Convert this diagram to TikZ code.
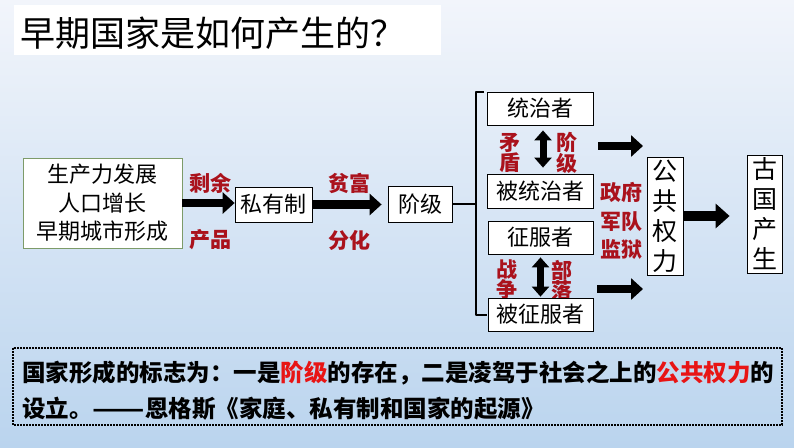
\documentclass[tikz,border=0pt]{standalone}
\usepackage{fontspec}
\setmainfont{Noto Sans CJK SC}
\usetikzlibrary{arrows.meta,calc}
\definecolor{lblred}{RGB}{170,18,28}
\definecolor{hlred}{RGB}{232,20,20}
\definecolor{bgtop}{RGB}{242,245,251}
\definecolor{bgbot}{RGB}{186,212,238}
\definecolor{gbord}{RGB}{125,155,105}
\begin{document}
\begin{tikzpicture}[x=1pt,y=-1pt,
  box/.style={draw=black,fill=white,line width=0.8pt,inner sep=0pt,align=center,
    font=\fontsize{22}{28.5}\selectfont},
  vbox/.style={box,font=\fontsize{25}{30}\selectfont},
  redlbl/.style={text=lblred,inner sep=0pt,align=center,
    font=\bfseries\fontsize{21}{20}\selectfont},
  fatarrow/.style={line width=8.5pt,-{Triangle[length=12pt,width=21pt]}},
  dblarrow/.style={line width=7pt,{Triangle[length=10pt,width=17pt]}-{Triangle[length=10pt,width=17pt]}},
  brk/.style={line width=2.5pt,line join=round},
  note/.style={anchor=west,inner sep=0pt,font=\bfseries\fontsize{23.5}{28}\selectfont}
]
\useasboundingbox (0,0) rectangle (794,447);
\shade[top color=bgtop,bottom color=bgbot] (0,0) rectangle (794,447);

% title
\fill[white] (14,5) rectangle (441,55);
\node[anchor=west,inner sep=0pt,font=\fontsize{35}{40}\selectfont] (title) at (20,33) {早期国家是如何产生的？};

% red labels (drawn first)
\node[redlbl] (l1) at (210,183) {剩余};
\node[redlbl] (l2) at (210,240) {产品};
\node[redlbl] (l3) at (349,183) {贫富};
\node[redlbl] (l4) at (349,240) {分化};
\node[redlbl] (l5) at (510,153) {矛\\盾};
\node[redlbl] (l6) at (567,153) {阶\\级};
\node[redlbl] (l7) at (507,280) {战\\争};
\node[redlbl] (l8) at (562,280) {部\\落};
\node[redlbl,font=\bfseries\fontsize{21}{28.5}\selectfont] (l9) at (621,221) {政府\\军队\\监狱};

% boxes
\node[box,draw=gbord,minimum width=159pt,minimum height=90pt] (b1) at (102.5,203) {生产力发展\\人口增长\\早期城市形成};
\node[box,minimum width=77pt,minimum height=35pt] (pri) at (273.5,204.5) {私有制};
\node[box,minimum width=64pt,minimum height=36pt] (jj) at (420,204) {阶级};
\node[box,minimum width=106pt,minimum height=33pt] (tz) at (540,108.5) {统治者};
\node[box,minimum width=106pt,minimum height=34pt] (btz) at (540,191) {被统治者};
\node[box,minimum width=105pt,minimum height=33pt] (zf) at (540.5,237.5) {征服者};
\node[box,minimum width=105pt,minimum height=33pt] (bzf) at (540.5,314.5) {被征服者};
\node[vbox,minimum width=36pt,minimum height=118pt] (gg) at (665,216) {公\\共\\权\\力};
\node[vbox,minimum width=35pt,minimum height=118pt] (gu) at (764.5,214) {古\\国\\产\\生};

% arrows
\draw[fatarrow] (b1.east) -- (b1.east -| pri.west);
\draw[fatarrow,shorten >=6pt] (pri.east) -- (pri.east -| jj.west);
\draw[fatarrow,line width=9.5pt,-{Triangle[length=14pt,width=24pt]},shorten >=17pt] (gg.east) -- (gg.east -| gu.west);

\coordinate (r1s) at (598,146);
\coordinate (r1e) at (643,146);
\coordinate (r2s) at (597,289);
\coordinate (r2e) at (643,289);
\draw[fatarrow] (r1s) -- (r1e);
\draw[fatarrow] (r2s) -- (r2e);

\draw[dblarrow,shorten <=5pt,shorten >=6pt] ($(tz.south)+(3,0)$) -- ($(btz.north)+(3,0)$);
\draw[dblarrow,shorten <=3pt,shorten >=1pt] (zf.south) -- (bzf.north);

% bracket
\coordinate (bt) at (476,92);
\coordinate (bb) at (476,315);
\draw[line width=2pt] (jj.east) -- (jj.east -| bt);
\draw[brk] ($(bt)+(8,0)$) -- (bt) -- (bb) -- ($(bb)+(11,0)$);

% bottom note
\draw[line width=1.6pt,dash pattern=on 1.6pt off 1.4pt] (13,348) rectangle (782,425);
\node[note] (n1) at (22,373) {国家形成的标志为：一是\textcolor{hlred}{阶级}的存在，二是凌驾于社会之上的\textcolor{hlred}{公共权力}的};
\node[note] (n2) at (22,409) {设立。\scalebox{1.3}[1]{——}恩格斯《家庭、私有制和国家的起源》};
\end{tikzpicture}
\end{document}
